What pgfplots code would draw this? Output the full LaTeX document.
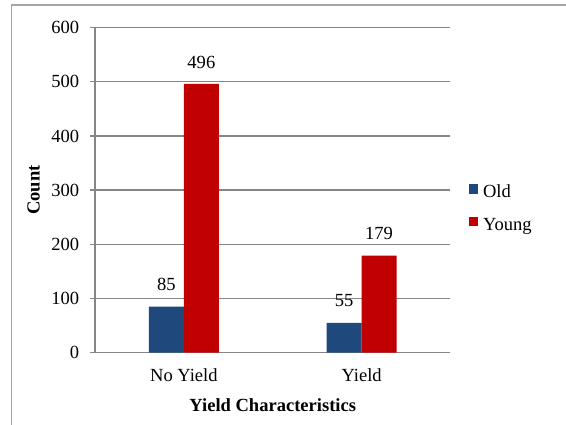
\documentclass[border=0pt]{standalone}
\usepackage{fontspec}
\setmainfont{Liberation Serif}
\usepackage{pgfplots}
\pgfplotsset{compat=1.18}
\definecolor{oldc}{RGB}{31,73,125}
\definecolor{youngc}{RGB}{192,0,0}
\definecolor{gridc}{RGB}{134,134,134}
\definecolor{framec}{RGB}{165,165,165}
\begin{document}
\begin{tikzpicture}[font=\fontsize{13.9}{16}\selectfont]
\useasboundingbox (-71.25pt,-53.5pt) rectangle (353.25pt,264.5pt);
\draw[framec, line width=1.1pt] (-62.6pt,-70pt) -- (-62.6pt,260.8pt) -- (370pt,260.8pt);
\begin{axis}[
 at={(0pt,0pt)}, anchor=south west,
 scale only axis, width=266.6pt, height=243.75pt,
 xmin=-0.5, xmax=1.5, ymin=0, ymax=600,
 ytick={0,100,...,600},
 xtick={0,1}, xticklabels={No Yield, Yield},
 axis x line=bottom, axis y line=left,
 axis line style={-, gridc, line width=1pt},
 ymajorgrids, grid style={gridc, line width=1pt},
 tick align=outside, major tick length=3.75pt,
 ytick style={gridc, line width=1pt},
 xtick style={draw=none},
 /pgf/number format/assume math mode=true,
 yticklabel style={anchor=east, inner sep=0pt, xshift=-8pt},
 xticklabel style={anchor=center, inner sep=0pt, yshift=-13pt},
 xlabel={\textbf{Yield Characteristics}},
 ylabel={\textbf{Count}},
 x label style={at={(axis description cs:0.5,-0.16)}, anchor=center, inner sep=0pt},
 y label style={at={(axis description cs:-0.1727,0.5)}, anchor=center, inner sep=0pt},
 ybar=0pt, bar width=26.25pt,
 nodes near coords,
 every node near coord/.append style={anchor=center, yshift=16.5pt, text=black, inner sep=0pt},
 legend style={at={(1.051,0.441)}, anchor=west, draw=none, fill=none, inner sep=0pt, outer sep=0pt,
   row sep=11.5pt, nodes={inner sep=0pt, anchor=west, text height=9.5pt, text depth=3pt},
   /tikz/every odd column/.append style={column sep=3.75pt}},
 legend cell align=left,
 legend image code/.code={\fill[#1] (0pt,-0.3pt) rectangle (7.1pt,6.8pt);},
 clip=false,
]
\addplot[fill=oldc, draw=none] coordinates {(0,85) (1,55)};
\addplot[fill=youngc, draw=none] coordinates {(0,496) (1,179)};
\legend{Old, Young}
\end{axis}
\end{tikzpicture}
\end{document}
